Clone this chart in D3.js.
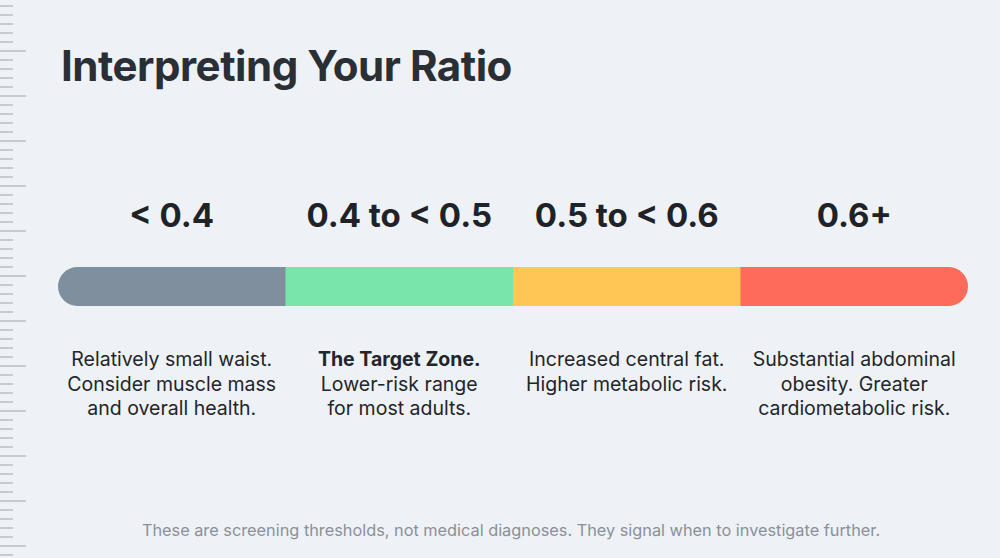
<!DOCTYPE html>
<html>
<head>
<meta charset="utf-8">
<script src="https://cdn.jsdelivr.net/npm/d3@7"></script>
<style>
  html, body { margin: 0; padding: 0; background: #eef2f6; }
  svg { display: block; }
</style>
</head>
<body>
<svg id="chart" width="1000" height="558"></svg>
<script>
const title = "Interpreting Your Ratio";
const categories = ["< 0.4", "0.4 to < 0.5", "0.5 to < 0.6", "0.6+"];
const colors = ["#7f8f9d", "#78e6ab", "#ffc555", "#ff6b5b"];
const headlines = ["", "The Target Zone.", "", ""];
const descriptions = [
  ["Relatively small waist.", "Consider muscle mass", "and overall health."],
  ["Lower-risk range", "for most adults."],
  ["Increased central fat.", "Higher metabolic risk."],
  ["Substantial abdominal", "obesity. Greater", "cardiometabolic risk."]
];
const footnote = "These are screening thresholds, not medical diagnoses. They signal when to investigate further.";

const W = 1000, H = 558;
const svg = d3.select("#chart");
svg.append("rect").attr("width", W).attr("height", H).attr("fill", "#eef2f6");

// decorative ruler on left edge
const ruler = svg.append("g");
d3.range(0, 62).forEach(i => {
  const y = 6 + i * 9;
  if (y > 556) return;
  const long = i % 5 === 0 && i > 0;
  ruler.append("line")
    .attr("x1", 0).attr("x2", long ? 26 : 13)
    .attr("y1", y).attr("y2", y)
    .attr("stroke", "#bfc4ca").attr("stroke-width", 1.7);
});

// title
const t = svg.append("text")
  .attr("x", 61).attr("y", 81)
  .attr("font-family", "Inter, sans-serif")
  .attr("font-weight", 700)
  .attr("font-size", 42)
  .attr("fill", "#2a2f36")
  .attr("letter-spacing", -0.5)
  .text(title);
{
  const w = t.node().getComputedTextLength();
  t.attr("font-size", 42 * 451 / w);
}

// scale
const x = d3.scaleBand().domain(categories).range([58, 968]).paddingInner(0).paddingOuter(0);
const barY = 267, barH = 39;

const defs = svg.append("defs");
defs.append("clipPath").attr("id", "barclip")
  .append("rect")
  .attr("x", x.range()[0]).attr("y", barY)
  .attr("width", x.range()[1] - x.range()[0]).attr("height", barH)
  .attr("rx", barH / 2).attr("ry", barH / 2);

svg.append("g").attr("clip-path", "url(#barclip)")
  .selectAll("rect").data(categories).join("rect")
  .attr("x", d => x(d))
  .attr("y", barY)
  .attr("width", x.bandwidth() + 0.5)
  .attr("height", barH)
  .attr("fill", (d, i) => colors[i]);

// range labels
svg.append("g").selectAll("text").data(categories).join("text")
  .attr("x", d => x(d) + x.bandwidth() / 2)
  .attr("y", 227)
  .attr("text-anchor", "middle")
  .attr("font-family", "Inter, sans-serif")
  .attr("font-weight", 700)
  .attr("font-size", 33)
  .attr("fill", "#1f2328")
  .text(d => d);

// descriptions
const descG = svg.append("g");
categories.forEach((c, i) => {
  const cx = x(c) + x.bandwidth() / 2;
  const lines = [];
  if (headlines[i]) lines.push({ text: headlines[i], bold: true });
  descriptions[i].forEach(l => lines.push({ text: l, bold: false }));
  lines.forEach((l, j) => {
    descG.append("text")
      .attr("x", cx)
      .attr("y", 366 + j * 24.5)
      .attr("text-anchor", "middle")
      .attr("font-family", "Inter, sans-serif")
      .attr("font-weight", l.bold ? 700 : 400)
      .attr("font-size", 19.5)
      .attr("fill", "#222529")
      .text(l.text);
  });
});

// footnote
const f = svg.append("text")
  .attr("x", 511).attr("y", 536)
  .attr("text-anchor", "middle")
  .attr("font-family", "Inter, sans-serif")
  .attr("font-size", 16)
  .attr("fill", "#8a9098")
  .text(footnote);
{
  const w = f.node().getComputedTextLength();
  f.attr("font-size", 16 * 739 / w);
}
</script>
</body>
</html>
